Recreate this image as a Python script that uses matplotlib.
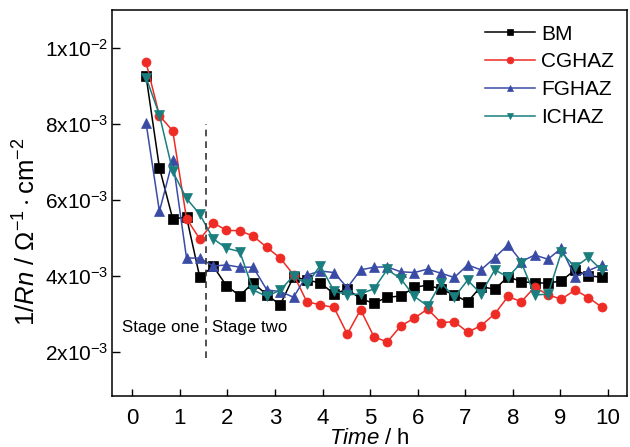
import matplotlib
matplotlib.use("Agg")
import matplotlib.pyplot as plt
import numpy as np

plt.rcParams['font.family'] = ['Liberation Sans', 'DejaVu Sans']
plt.rcParams['mathtext.fontset'] = 'custom'
plt.rcParams['mathtext.rm'] = 'Liberation Sans'
plt.rcParams['mathtext.it'] = 'Liberation Sans:italic'
plt.rcParams['mathtext.bf'] = 'Liberation Sans:bold'

time_h = [0.29, 0.57, 0.85, 1.14, 1.42, 1.70, 1.98, 2.26, 2.54, 2.83,
          3.11, 3.39, 3.67, 3.95, 4.24, 4.52, 4.80, 5.08, 5.36, 5.64,
          5.93, 6.21, 6.49, 6.77, 7.05, 7.33, 7.62, 7.90, 8.18, 8.46,
          8.74, 9.02, 9.31, 9.59, 9.87]

# values in units of 1e-3 Ohm^-1 cm^-2
bm = [9.25, 6.85, 5.50, 5.55, 3.96, 4.26, 3.74, 3.48, 3.82, 3.50,
      3.24, 3.98, 3.89, 3.82, 3.53, 3.65, 3.40, 3.28, 3.44, 3.47,
      3.70, 3.76, 3.65, 3.50, 3.32, 3.72, 3.65, 3.98, 3.85, 3.82,
      3.81, 3.87, 4.16, 4.00, 3.97]
cghaz = [9.62, 8.22, 7.82, 5.51, 4.97, 5.40, 5.20, 5.19, 5.05, 4.75,
         4.47, 4.03, 3.32, 3.24, 3.17, 2.47, 3.11, 2.40, 2.26, 2.68,
         2.89, 3.13, 2.77, 2.80, 2.52, 2.69, 3.00, 3.46, 3.32, 3.71,
         3.50, 3.39, 3.63, 3.43, 3.18]
fghaz = [8.02, 5.70, 7.05, 4.47, 4.47, 4.26, 4.29, 4.23, 4.23, 3.63,
         3.59, 3.44, 4.02, 4.13, 4.09, 3.69, 4.16, 4.23, 4.24, 4.11,
         4.09, 4.18, 4.07, 3.96, 4.29, 4.16, 4.48, 4.82, 4.38, 4.55,
         4.44, 4.73, 3.97, 4.14, 4.29]
ichaz = [9.22, 8.24, 6.75, 6.04, 5.62, 4.98, 4.73, 4.64, 3.63, 3.46,
         3.63, 4.00, 3.78, 4.27, 3.61, 3.50, 3.53, 3.66, 4.17, 3.93,
         3.46, 3.21, 3.82, 3.44, 3.89, 3.53, 4.16, 3.97, 4.35, 3.50,
         3.52, 4.62, 4.23, 4.49, 4.15]

series_names = ['BM', 'CGHAZ', 'FGHAZ', 'ICHAZ']
series_vals = [bm, cghaz, fghaz, ichaz]
colors = ['#000000', '#EE2B25', '#3A4BA6', '#1A7E7E']
markers = ['s', 'o', '^', 'v']

x_ticks = list(range(0, 11))
y_ticks = [2e-3, 4e-3, 6e-3, 8e-3, 1e-2]
y_ticklabels = [r'$\mathregular{2x10^{-3}}$', r'$\mathregular{4x10^{-3}}$',
                r'$\mathregular{6x10^{-3}}$', r'$\mathregular{8x10^{-3}}$',
                r'$\mathregular{1x10^{-2}}$']
stage_boundary = 1.54
stage_line_y = [1.85e-3, 8.0e-3]

fig = plt.figure(figsize=(6.3, 4.47), dpi=100)
ax = fig.add_axes([0.1783, 0.1141, 0.8169, 0.8635])

for name, vals, c, m in zip(series_names, series_vals, colors, markers):
    ax.plot(time_h, np.array(vals) * 1e-3, color=c, marker=m, ms=6.5,
            lw=1.1, label=name, markeredgewidth=0.5, markeredgecolor=c)

ax.plot([stage_boundary, stage_boundary], stage_line_y, color='#333333',
        lw=1.2, ls=(0, (4, 3)))
ax.text(-0.22, 2.63e-3, 'Stage one', fontsize=12.2, va='center', ha='left')
ax.text(1.68, 2.63e-3, 'Stage two', fontsize=12.2, va='center', ha='left')

ax.set_xlim(-0.42, 10.4)
ax.set_ylim(0.84e-3, 11.0e-3)
ax.set_xticks(x_ticks)
ax.set_xticklabels([str(v) for v in x_ticks])
ax.set_yticks(y_ticks)
ax.set_yticklabels(y_ticklabels)
ax.tick_params(direction='in', width=1.0)
ax.tick_params(axis='x', length=5, pad=9, labelsize=16)
ax.tick_params(axis='y', length=6, pad=3, labelsize=15)
for s in ax.spines.values():
    s.set_linewidth(1.1)

ax.set_xlabel(r'$\mathit{Time}$ / h', fontsize=16, labelpad=-1)
fig.text(27 / 630, 1 - 232 / 447,
         r'$\mathit{1/Rn}$ / $\Omega^{-1}\cdot$cm$^{-2}$',
         rotation=90, fontsize=18.5, ha='center', va='center')

ax.legend(loc='upper left', bbox_to_anchor=(0.724, 0.962), frameon=False,
          fontsize=15, borderpad=0, borderaxespad=0, labelspacing=0.42,
          handlelength=2.4, handletextpad=0.3, markerscale=0.75)

fig.savefig('out.png', dpi=100)
